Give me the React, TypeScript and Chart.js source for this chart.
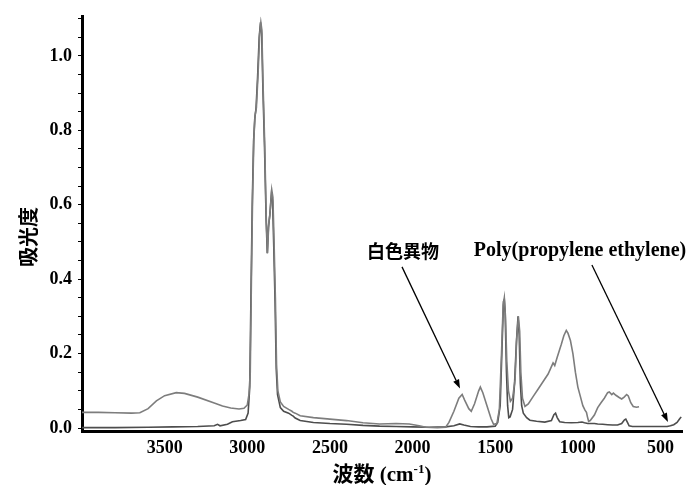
import React, { useEffect, useRef } from "react";
import { Chart, registerables } from "chart.js";

Chart.register(...registerables);

// ---- Data (wavenumber cm-1, absorbance) ----
// Series A: 白色異物 (white foreign matter)
const A_WN = [
  4000, 3900, 3800, 3700, 3650, 3600, 3550, 3500, 3430, 3380, 3300, 3200, 3150, 3100, 3050, 3020, 3000, 2990, 2982,
  2975, 2968, 2960, 2953, 2945, 2935, 2925, 2918, 2912, 2905, 2895, 2885, 2878, 2870, 2862, 2852, 2845, 2838, 2830,
  2823, 2815, 2800, 2780, 2750, 2730, 2722, 2710, 2680, 2600, 2500, 2400, 2300, 2200, 2100, 2020, 1960, 1920, 1850,
  1800, 1780, 1750, 1720, 1700, 1685, 1660, 1645, 1625, 1600, 1590, 1575, 1550, 1525, 1510, 1490, 1475, 1462, 1452,
  1445, 1438, 1430, 1420, 1408, 1395, 1380, 1370, 1360, 1352, 1345, 1335, 1320, 1300, 1270, 1240, 1210, 1180, 1160,
  1150, 1140, 1125, 1100, 1085, 1070, 1060, 1045, 1030, 1015, 1000, 985, 970, 957, 948, 942, 935, 925, 900, 880, 860,
  840, 820, 810, 795, 785, 770, 750, 735, 720, 705, 695, 680, 665, 645, 630,
];
const A_ABS = [
  0.042, 0.042, 0.041, 0.04, 0.041, 0.052, 0.073, 0.087, 0.095, 0.093, 0.083, 0.067, 0.059, 0.054, 0.051, 0.053, 0.062,
  0.09, 0.15, 0.4, 0.62, 0.78, 0.84, 0.86, 0.95, 1.06, 1.09, 1.07, 0.93, 0.77, 0.56, 0.47, 0.55, 0.58, 0.64, 0.62, 0.5,
  0.35, 0.17, 0.1, 0.07, 0.058, 0.05, 0.045, 0.042, 0.04, 0.033, 0.028, 0.024, 0.02, 0.014, 0.011, 0.012, 0.011, 0.006,
  0.002, 0.001, 0.002, 0.015, 0.045, 0.08, 0.09, 0.075, 0.052, 0.045, 0.065, 0.1, 0.11, 0.095, 0.06, 0.025, 0.01,
  0.012, 0.05, 0.2, 0.33, 0.35, 0.3, 0.18, 0.1, 0.072, 0.08, 0.13, 0.24, 0.3, 0.26, 0.15, 0.08, 0.058, 0.065, 0.085,
  0.105, 0.125, 0.145, 0.165, 0.175, 0.168, 0.19, 0.225, 0.248, 0.262, 0.255, 0.235, 0.2, 0.15, 0.11, 0.085, 0.06,
  0.048, 0.042, 0.03, 0.018, 0.02, 0.035, 0.055, 0.068, 0.08, 0.095, 0.097, 0.09, 0.094, 0.088, 0.082, 0.078, 0.083,
  0.09, 0.086, 0.068, 0.058, 0.056, 0.057,
];

// Series B: Poly(propylene ethylene) reference
const B_WN = [
  4000, 3800, 3600, 3450, 3300, 3200, 3180, 3165, 3120, 3090, 3040, 3010, 2995, 2985, 2978, 2970, 2962, 2955, 2947,
  2938, 2928, 2920, 2913, 2906, 2896, 2886, 2879, 2872, 2864, 2854, 2847, 2840, 2832, 2825, 2817, 2800, 2780, 2750,
  2730, 2722, 2710, 2680, 2600, 2500, 2400, 2300, 2200, 2100, 2000, 1900, 1800, 1750, 1715, 1690, 1650, 1600, 1550,
  1500, 1485, 1470, 1460, 1450, 1445, 1440, 1432, 1425, 1418, 1410, 1395, 1383, 1372, 1362, 1355, 1348, 1340, 1330,
  1310, 1290, 1250, 1200, 1160, 1145, 1135, 1125, 1110, 1080, 1040, 1000, 975, 960, 940, 900, 880, 850, 820, 790, 760,
  735, 718, 710, 700, 690, 670, 600, 500, 460, 440, 420, 400, 385, 375,
];
const B_ABS = [
  0.001, 0.001, 0.002, 0.003, 0.004, 0.006, 0.01, 0.006, 0.01, 0.017, 0.02, 0.023, 0.04, 0.11, 0.35, 0.6, 0.77, 0.83,
  0.86, 0.94, 1.05, 1.09, 1.06, 0.92, 0.76, 0.56, 0.47, 0.54, 0.57, 0.63, 0.61, 0.49, 0.34, 0.16, 0.09, 0.055, 0.045,
  0.04, 0.034, 0.032, 0.027, 0.02, 0.015, 0.012, 0.01, 0.007, 0.005, 0.004, 0.003, 0.002, 0.003, 0.006, 0.011, 0.008,
  0.004, 0.003, 0.003, 0.005, 0.015, 0.06, 0.2, 0.34, 0.345, 0.31, 0.15, 0.06, 0.028, 0.03, 0.05, 0.12, 0.23, 0.3,
  0.25, 0.12, 0.06, 0.04, 0.028, 0.021, 0.018, 0.016, 0.02, 0.036, 0.04, 0.028, 0.017, 0.015, 0.014, 0.015, 0.016,
  0.014, 0.012, 0.012, 0.011, 0.01, 0.009, 0.008, 0.008, 0.012, 0.022, 0.024, 0.015, 0.006, 0.004, 0.004, 0.004, 0.004,
  0.006, 0.009, 0.015, 0.024, 0.03,
];

// ---- Axes ----
const X_MIN = 370;
const X_MAX = 4000;
const X_TICKS = [3500, 3000, 2500, 2000, 1500, 1000, 500];
const Y_MIN = -0.008;
const Y_MAX = 1.105;
const Y_TICKS = [0.0, 0.2, 0.4, 0.6, 0.8, 1.0];
const Y_MINOR_STEP = 0.05;

const X_TITLE_CJK = "波数";
const X_TITLE_UNIT = " (cm";
const X_TITLE_SUP = "-1";
const X_TITLE_END = ")";
const Y_TITLE = "吸光度";

// ---- Annotations (anchored in data space) ----
const ANNOT_LABELS = ["白色異物", "Poly(propylene ethylene)"];
const ANNOT_TEXT_AT = [
  [2058, 0.476],
  [987, 0.476],
];
const ANNOT_ARROW_FROM = [
  [2064, 0.433],
  [915, 0.438],
];
const ANNOT_ARROW_TO = [
  [1713, 0.106],
  [455, 0.016],
];

const SERIF = '"Liberation Serif", "Times New Roman", serif';
const CJK = '"Noto Sans CJK JP", "Noto Sans CJK SC", sans-serif';

const overlayPlugin = {
  id: "overlay",
  afterDraw(chart: any) {
    const { ctx, scales, chartArea } = chart;
    const xs = scales.x;
    const ys = scales.y;
    ctx.save();
    ctx.fillStyle = "#000";
    ctx.strokeStyle = "#000";

    // arrows
    for (let i = 0; i < ANNOT_ARROW_FROM.length; i++) {
      const x1 = xs.getPixelForValue(ANNOT_ARROW_FROM[i][0]);
      const y1 = ys.getPixelForValue(ANNOT_ARROW_FROM[i][1]);
      const x2 = xs.getPixelForValue(ANNOT_ARROW_TO[i][0]);
      const y2 = ys.getPixelForValue(ANNOT_ARROW_TO[i][1]);
      const ang = Math.atan2(y2 - y1, x2 - x1);
      const headLen = 9;
      const headHalf = 3.2;
      const bx = x2 - headLen * Math.cos(ang);
      const by = y2 - headLen * Math.sin(ang);
      ctx.lineWidth = 1.3;
      ctx.beginPath();
      ctx.moveTo(x1, y1);
      ctx.lineTo(bx, by);
      ctx.stroke();
      ctx.beginPath();
      ctx.moveTo(x2, y2);
      ctx.lineTo(bx + headHalf * Math.sin(ang), by - headHalf * Math.cos(ang));
      ctx.lineTo(bx - headHalf * Math.sin(ang), by + headHalf * Math.cos(ang));
      ctx.closePath();
      ctx.fill();
    }

    // annotation labels
    ctx.textAlign = "center";
    ctx.textBaseline = "middle";
    for (let i = 0; i < ANNOT_LABELS.length; i++) {
      const tx = xs.getPixelForValue(ANNOT_TEXT_AT[i][0]);
      const ty = ys.getPixelForValue(ANNOT_TEXT_AT[i][1]);
      ctx.font = i === 0 ? `bold 18px ${CJK}` : `bold 20px ${SERIF}`;
      ctx.fillText(ANNOT_LABELS[i], tx, ty);
    }

    // y title
    ctx.save();
    ctx.translate(28, 237);
    ctx.rotate(-Math.PI / 2);
    ctx.font = `bold 20px ${CJK}`;
    ctx.textAlign = "center";
    ctx.textBaseline = "middle";
    ctx.fillText(Y_TITLE, 0, 0);
    ctx.restore();

    // x title with superscript
    const fCjk = `bold 21px ${CJK}`;
    const fSerif = `bold 21px ${SERIF}`;
    const fSup = `bold 13px ${SERIF}`;
    ctx.textAlign = "left";
    ctx.textBaseline = "alphabetic";
    ctx.font = fCjk;
    const w1 = ctx.measureText(X_TITLE_CJK).width;
    ctx.font = fSerif;
    const w2 = ctx.measureText(X_TITLE_UNIT).width;
    const w4 = ctx.measureText(X_TITLE_END).width;
    ctx.font = fSup;
    const w3 = ctx.measureText(X_TITLE_SUP).width;
    const total = w1 + w2 + w3 + w4;
    const cx = (chartArea.left + chartArea.right) / 2;
    let px = cx - total / 2;
    const base = 481;
    ctx.font = fCjk;
    ctx.fillText(X_TITLE_CJK, px, base);
    px += w1;
    ctx.font = fSerif;
    ctx.fillText(X_TITLE_UNIT, px, base);
    px += w2;
    ctx.font = fSup;
    ctx.fillText(X_TITLE_SUP, px, base - 8);
    px += w3;
    ctx.font = fSerif;
    ctx.fillText(X_TITLE_END, px, base);

    ctx.restore();
  },
};

export default function App() {
  const ref = useRef<HTMLCanvasElement | null>(null);

  useEffect(() => {
    if (!ref.current) return;
    const tickFont = { family: SERIF, size: 18, weight: "bold" as const };
    const chart = new Chart(ref.current, {
      type: "line",
      data: {
        datasets: [
          {
            label: "白色異物",
            data: A_WN.map((w, i) => ({ x: w, y: A_ABS[i] })),
            borderColor: "#7d7d7d",
            borderWidth: 1.6,
            pointRadius: 0,
            tension: 0,
            fill: false,
          },
          {
            label: "Poly(propylene ethylene)",
            data: B_WN.map((w, i) => ({ x: w, y: B_ABS[i] })),
            borderColor: "#4d4d4d",
            borderWidth: 1.6,
            pointRadius: 0,
            tension: 0,
            fill: false,
          },
        ],
      },
      options: {
        responsive: false,
        animation: false,
        devicePixelRatio: 1,
        layout: { padding: { left: 0, top: 12, right: 9, bottom: 0 } },
        plugins: {
          legend: { display: false },
          tooltip: { enabled: false },
          title: { display: false },
        },
        scales: {
          x: {
            type: "linear",
            reverse: true,
            min: X_MIN,
            max: X_MAX,
            afterBuildTicks: (scale: any) => {
              scale.ticks = X_TICKS.map((v) => ({ value: v }));
            },
            afterFit: (scale: any) => {
              scale.height = 54;
            },
            ticks: {
              font: tickFont,
              color: "#000",
              padding: 7,
              maxRotation: 0,
              autoSkip: false,
              callback: (v: any) => String(v),
            },
            grid: { display: true, drawOnChartArea: false, drawTicks: false },
            border: { display: true, color: "#000", width: 3 },
          },
          y: {
            type: "linear",
            min: Y_MIN,
            max: Y_MAX,
            afterBuildTicks: (scale: any) => {
              const t: any[] = [];
              for (let k = 0; k * Y_MINOR_STEP <= Y_MAX + 1e-9; k++) {
                t.push({ value: +(k * Y_MINOR_STEP).toFixed(2) });
              }
              scale.ticks = t;
            },
            afterFit: (scale: any) => {
              scale.width = 82;
            },
            ticks: {
              font: tickFont,
              color: "#000",
              padding: 6,
              autoSkip: false,
              callback: (v: any) => {
                const m = Y_TICKS.find((t) => Math.abs(t - v) < 1e-6);
                return m === undefined ? "" : m.toFixed(1);
              },
            },
            grid: {
              display: true,
              drawOnChartArea: false,
              drawTicks: true,
              tickLength: 4,
              color: "#000",
              lineWidth: 1,
            },
            border: { display: true, color: "#000", width: 3 },
          },
        },
      },
      plugins: [overlayPlugin],
    });
    return () => chart.destroy();
  }, []);

  return (
    <div style={{ position: "fixed", left: 0, top: 0, width: 691, height: 485, background: "#fff" }}>
      <canvas ref={ref} width={691} height={485} style={{ display: "block", width: 691, height: 485 }} />
    </div>
  );
}
